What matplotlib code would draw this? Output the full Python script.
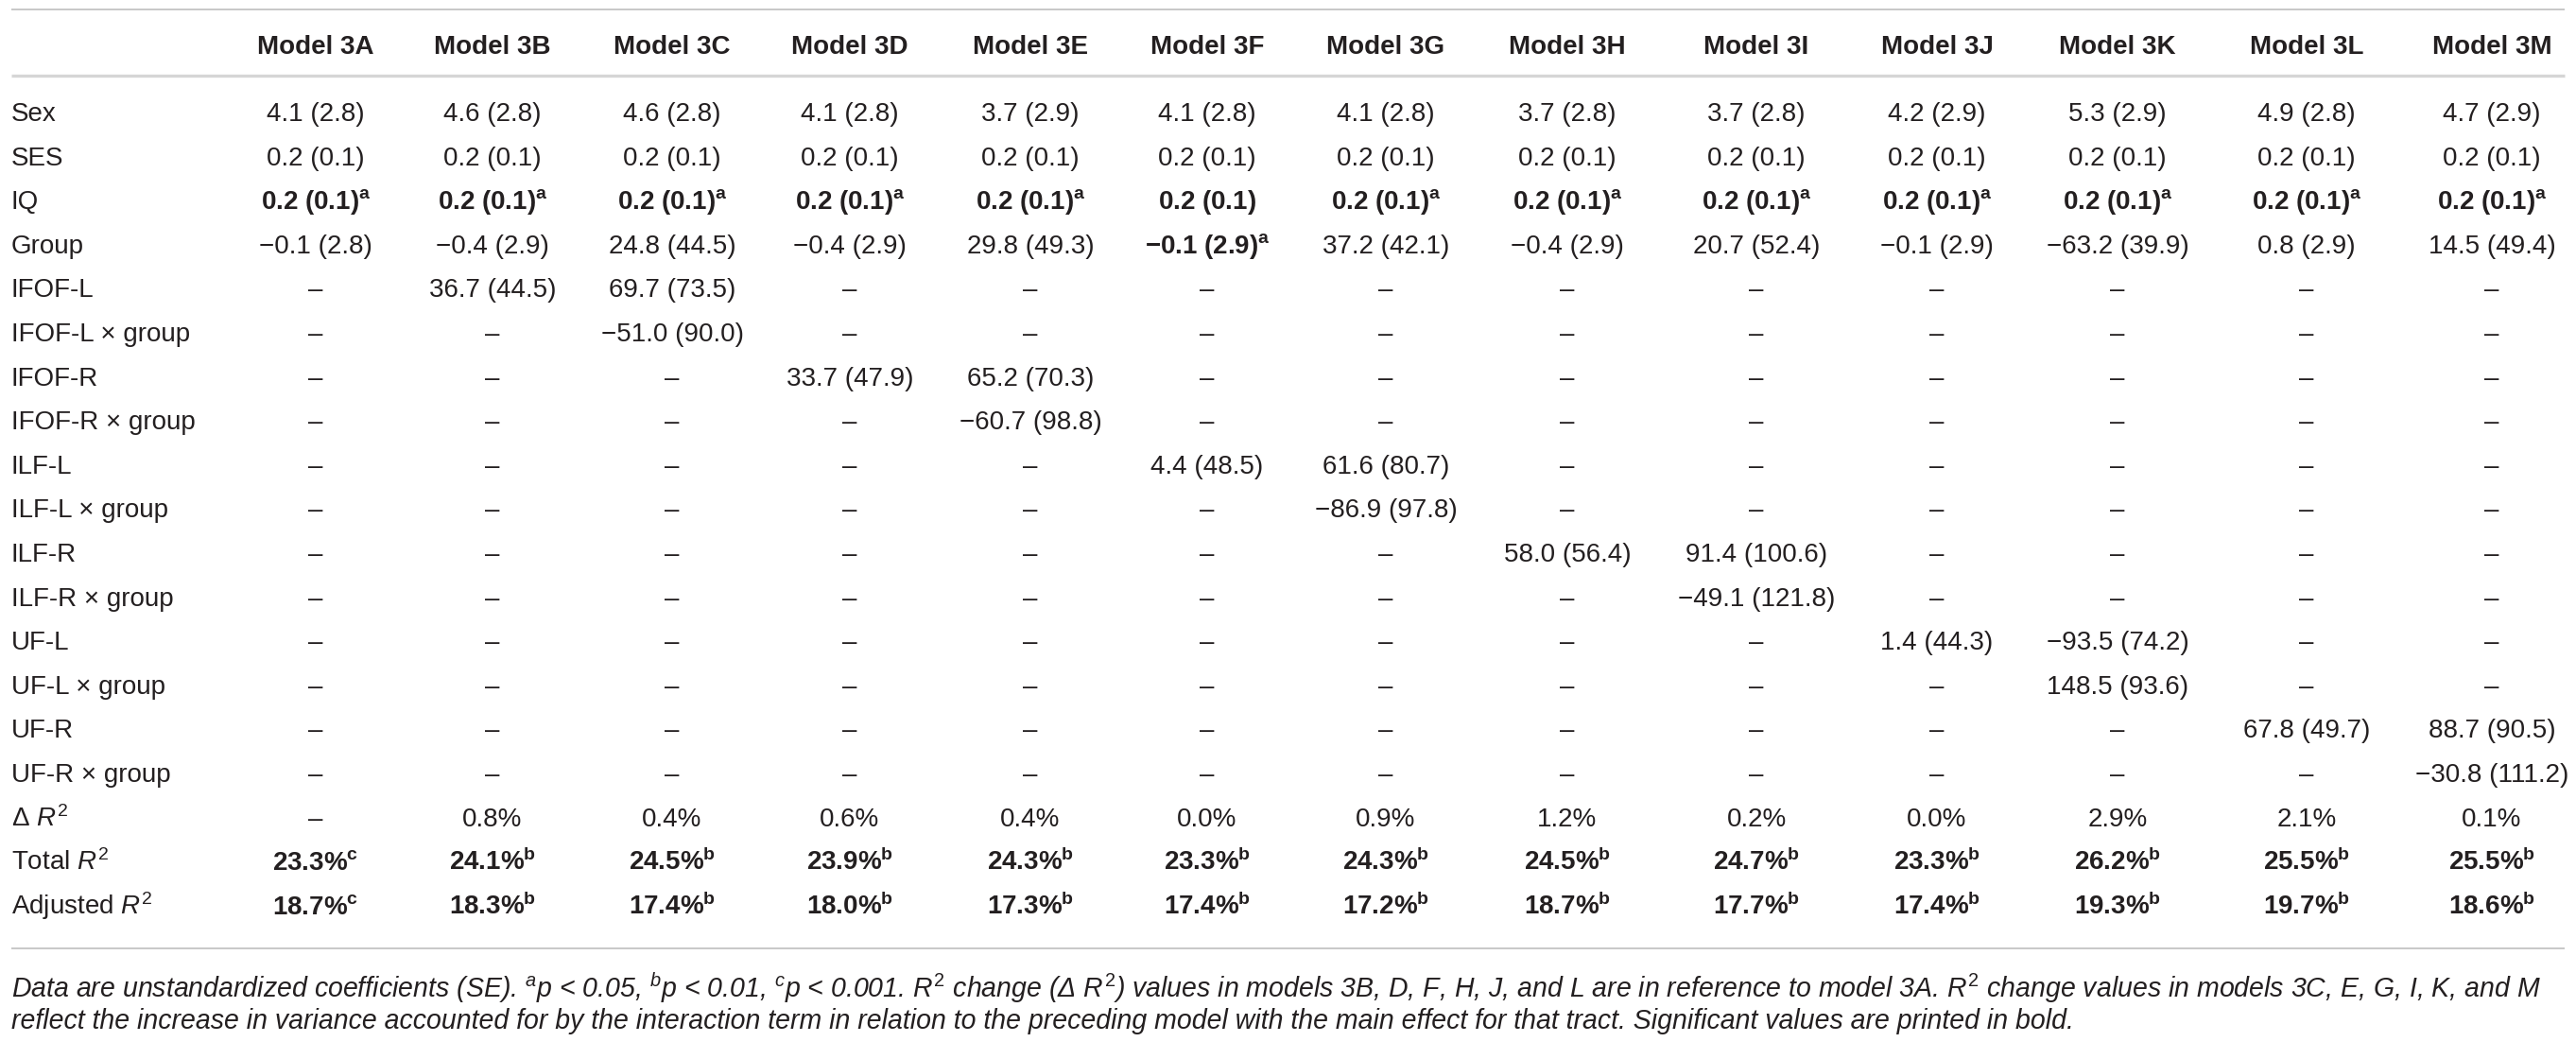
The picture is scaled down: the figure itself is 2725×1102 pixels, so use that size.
import matplotlib
matplotlib.use("Agg")
import matplotlib.pyplot as plt

plt.rcParams['font.family'] = ['Liberation Sans', 'DejaVu Sans']
plt.rcParams['mathtext.fontset'] = 'custom'
plt.rcParams['mathtext.rm'] = 'Liberation Sans'
plt.rcParams['mathtext.it'] = 'Liberation Sans:italic'
plt.rcParams['mathtext.bf'] = 'Liberation Sans:bold'

# ---- table data ----
models = ['Model 3A', 'Model 3B', 'Model 3C', 'Model 3D', 'Model 3E', 'Model 3F', 'Model 3G',
          'Model 3H', 'Model 3I', 'Model 3J', 'Model 3K', 'Model 3L', 'Model 3M']

row_labels = ['Sex', 'SES', 'IQ', 'Group',
              'IFOF-L', 'IFOF-L × group', 'IFOF-R', 'IFOF-R × group',
              'ILF-L', 'ILF-L × group', 'ILF-R', 'ILF-R × group',
              'UF-L', 'UF-L × group', 'UF-R', 'UF-R × group',
              'Δ $R^2$', 'Total $R^2$', 'Adjusted $R^2$']

_ = None
sex_b = [4.1, 4.6, 4.6, 4.1, 3.7, 4.1, 4.1, 3.7, 3.7, 4.2, 5.3, 4.9, 4.7]
sex_se = [2.8, 2.8, 2.8, 2.8, 2.9, 2.8, 2.8, 2.8, 2.8, 2.9, 2.9, 2.8, 2.9]
ses_b = [0.2] * 13
ses_se = [0.1] * 13
iq_b = [0.2] * 13
iq_se = [0.1] * 13
iq_sig = ['a', 'a', 'a', 'a', 'a', '', 'a', 'a', 'a', 'a', 'a', 'a', 'a']
group_b = [-0.1, -0.4, 24.8, -0.4, 29.8, -0.1, 37.2, -0.4, 20.7, -0.1, -63.2, 0.8, 14.5]
group_se = [2.8, 2.9, 44.5, 2.9, 49.3, 2.9, 42.1, 2.9, 52.4, 2.9, 39.9, 2.9, 49.4]
group_sig = [_, _, _, _, _, 'a', _, _, _, _, _, _, _]

ifofl_b = [_, 36.7, 69.7, _, _, _, _, _, _, _, _, _, _]
ifofl_se = [_, 44.5, 73.5, _, _, _, _, _, _, _, _, _, _]
ifofl_x_b = [_, _, -51.0, _, _, _, _, _, _, _, _, _, _]
ifofl_x_se = [_, _, 90.0, _, _, _, _, _, _, _, _, _, _]
ifofr_b = [_, _, _, 33.7, 65.2, _, _, _, _, _, _, _, _]
ifofr_se = [_, _, _, 47.9, 70.3, _, _, _, _, _, _, _, _]
ifofr_x_b = [_, _, _, _, -60.7, _, _, _, _, _, _, _, _]
ifofr_x_se = [_, _, _, _, 98.8, _, _, _, _, _, _, _, _]
ilfl_b = [_, _, _, _, _, 4.4, 61.6, _, _, _, _, _, _]
ilfl_se = [_, _, _, _, _, 48.5, 80.7, _, _, _, _, _, _]
ilfl_x_b = [_, _, _, _, _, _, -86.9, _, _, _, _, _, _]
ilfl_x_se = [_, _, _, _, _, _, 97.8, _, _, _, _, _, _]
ilfr_b = [_, _, _, _, _, _, _, 58.0, 91.4, _, _, _, _]
ilfr_se = [_, _, _, _, _, _, _, 56.4, 100.6, _, _, _, _]
ilfr_x_b = [_, _, _, _, _, _, _, _, -49.1, _, _, _, _]
ilfr_x_se = [_, _, _, _, _, _, _, _, 121.8, _, _, _, _]
ufl_b = [_, _, _, _, _, _, _, _, _, 1.4, -93.5, _, _]
ufl_se = [_, _, _, _, _, _, _, _, _, 44.3, 74.2, _, _]
ufl_x_b = [_, _, _, _, _, _, _, _, _, _, 148.5, _, _]
ufl_x_se = [_, _, _, _, _, _, _, _, _, _, 93.6, _, _]
ufr_b = [_, _, _, _, _, _, _, _, _, _, _, 67.8, 88.7]
ufr_se = [_, _, _, _, _, _, _, _, _, _, _, 49.7, 90.5]
ufr_x_b = [_, _, _, _, _, _, _, _, _, _, _, _, -30.8]
ufr_x_se = [_, _, _, _, _, _, _, _, _, _, _, _, 111.2]

delta_r2 = [_, 0.8, 0.4, 0.6, 0.4, 0.0, 0.9, 1.2, 0.2, 0.0, 2.9, 2.1, 0.1]
total_r2 = [23.3, 24.1, 24.5, 23.9, 24.3, 23.3, 24.3, 24.5, 24.7, 23.3, 26.2, 25.5, 25.5]
total_sig = ['c', 'b', 'b', 'b', 'b', 'b', 'b', 'b', 'b', 'b', 'b', 'b', 'b']
adj_r2 = [18.7, 18.3, 17.4, 18.0, 17.3, 17.4, 17.2, 18.7, 17.7, 17.4, 19.3, 19.7, 18.6]
adj_sig = ['c', 'b', 'b', 'b', 'b', 'b', 'b', 'b', 'b', 'b', 'b', 'b', 'b']

footnote1 = (r"Data are unstandardized coefficients (SE). ${}^{\mathit{a}}$$\mathit{p}$ < 0.05, "
             r"${}^{\mathit{b}}$$\mathit{p}$ < 0.01, ${}^{\mathit{c}}$$\mathit{p}$ < 0.001. "
             r"$\mathit{R}^{\mathit{2}}$ change (Δ $\mathit{R}^{\mathit{2}}$) values in models 3B, D, F, H, J, "
             r"and L are in reference to model 3A. $\mathit{R}^{\mathit{2}}$ change values in models 3C, E, G, I, K, and M")
footnote2 = ("reflect the increase in variance accounted for by the interaction term in relation to the preceding "
             "model with the main effect for that tract. Significant values are printed in bold.")

# ---- layout ----
W, H = 2725, 1102
col_x = [334, 521, 711, 899, 1090, 1277, 1466, 1658, 1858, 2049, 2240, 2440, 2636]
label_x = 12
header_y = 47
row_y0, row_dy = 118, 46.6
fs = 20
ink = '#231f20'
line_col = '#c4c4c4'


def num(v):
    s = f"{abs(v):.1f}"
    return ('\u2212' + s) if v < 0 else s


def coef_cell(b, se, sig=None, bold=False):
    if b is None:
        return '\u2013', False
    if bold:
        base = num(b).replace('\u2212', '-') + r'\ (' + f"{se:.1f}" + ')'
        if sig:
            return r'$\mathbf{' + base + r'}^{\mathbf{' + sig + '}}$', True
        return r'$\mathbf{' + base + '}$', True
    return f"{num(b)} ({se:.1f})", False


def pct_cell(v, sig):
    return r'$\mathbf{' + f"{v:.1f}" + r'\%}^{\mathbf{' + sig + '}}$', True


rows = []
rows.append([coef_cell(b, s) for b, s in zip(sex_b, sex_se)])
rows.append([coef_cell(b, s) for b, s in zip(ses_b, ses_se)])
rows.append([coef_cell(b, s, g, True) for b, s, g in zip(iq_b, iq_se, iq_sig)])
rows.append([coef_cell(b, s, g, g is not None) for b, s, g in zip(group_b, group_se, group_sig)])
for bs, ses in [(ifofl_b, ifofl_se), (ifofl_x_b, ifofl_x_se), (ifofr_b, ifofr_se), (ifofr_x_b, ifofr_x_se),
                (ilfl_b, ilfl_se), (ilfl_x_b, ilfl_x_se), (ilfr_b, ilfr_se), (ilfr_x_b, ilfr_x_se),
                (ufl_b, ufl_se), (ufl_x_b, ufl_x_se), (ufr_b, ufr_se), (ufr_x_b, ufr_x_se)]:
    rows.append([coef_cell(b, s) for b, s in zip(bs, ses)])
rows.append([('\u2013', False) if v is None else (f"{v:.1f}%", False) for v in delta_r2])
rows.append([pct_cell(v, g) for v, g in zip(total_r2, total_sig)])
rows.append([pct_cell(v, g) for v, g in zip(adj_r2, adj_sig)])

fig = plt.figure(figsize=(W / 100, H / 100), dpi=100)
ax = fig.add_axes([0, 0, 1, 1])
ax.set_xlim(0, W)
ax.set_ylim(H, 0)
ax.axis('off')

# rules
ax.plot([12, 2713], [10, 10], color=line_col, lw=1.3, solid_capstyle='butt')
ax.plot([12, 2713], [80, 80], color='#d6d6d6', lw=2.4, solid_capstyle='butt')
ax.plot([12, 2713], [1003, 1003], color=line_col, lw=1.3, solid_capstyle='butt')

base_off = 10
for x, m in zip(col_x, models):
    ax.text(x, header_y + base_off, m, ha='center', va='baseline', fontsize=fs,
            fontweight='bold', color=ink)

for i, (lab, cells) in enumerate(zip(row_labels, rows)):
    y = row_y0 + i * row_dy + base_off
    ax.text(label_x, y, lab, ha='left', va='baseline', fontsize=fs, color=ink)
    for x, (txt, bold) in zip(col_x, cells):
        ax.text(x, y, txt, ha='center', va='baseline', fontsize=fs, color=ink,
                fontweight='bold' if bold else 'normal')

# footnote, scaled so the first line spans the same width as the table
t1 = ax.text(label_x, 1055, footnote1, ha='left', va='baseline', fontsize=18,
             style='italic', color=ink)
fig.canvas.draw()
w1 = t1.get_window_extent(fig.canvas.get_renderer()).width
fs_note = 18 * (2691 - label_x) / w1
t1.set_fontsize(fs_note)
ax.text(label_x, 1088, footnote2, ha='left', va='baseline', fontsize=fs_note,
        style='italic', color=ink)

fig.savefig('out.png', dpi=100)
